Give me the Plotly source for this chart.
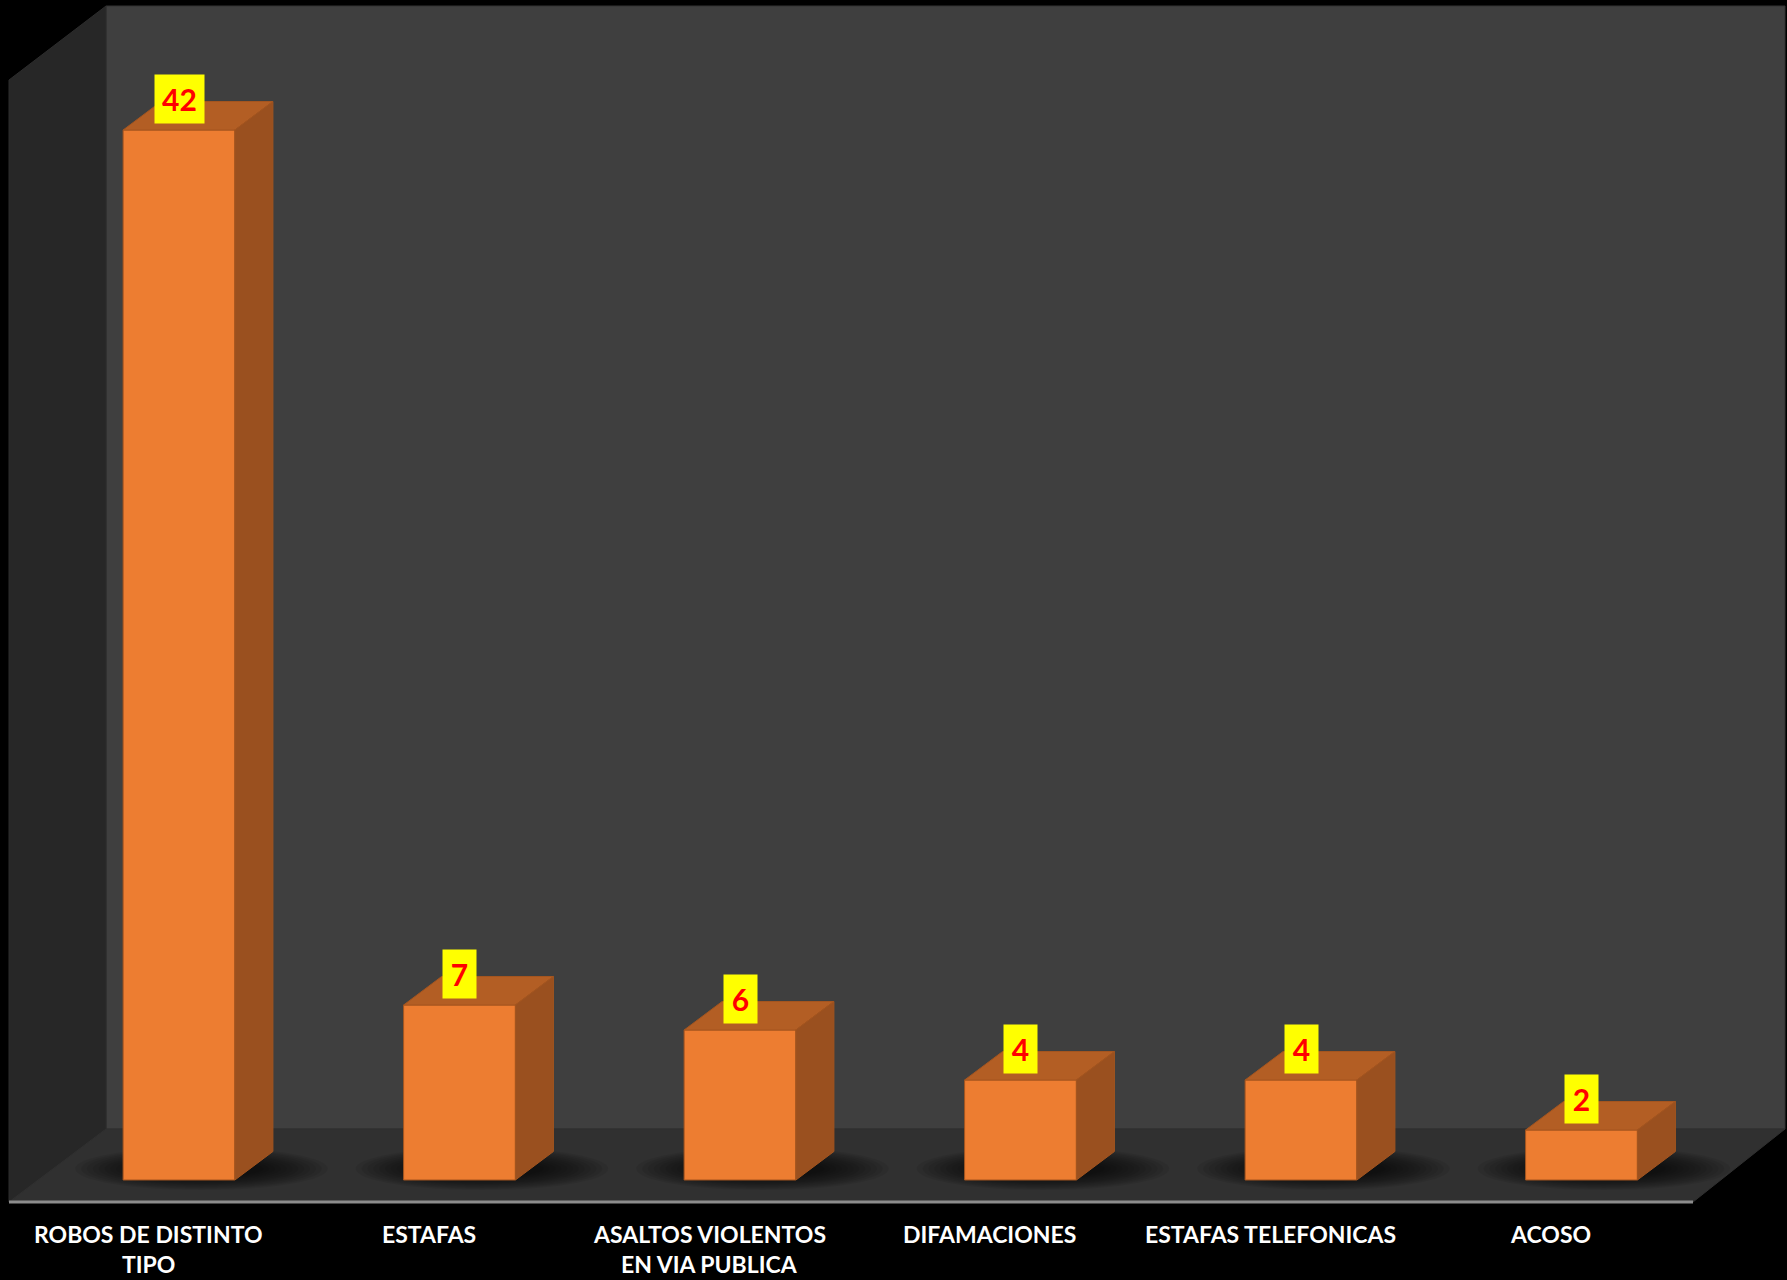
import plotly.graph_objects as go

# ---- data ----
categories = ["ROBOS DE DISTINTO<br>TIPO", "ESTAFAS", "ASALTOS VIOLENTOS<br>EN VIA PUBLICA",
              "DIFAMACIONES", "ESTAFAS TELEFONICAS", "ACOSO"]
values = [42, 7, 6, 4, 4, 2]

# ---- geometry / style ----
W, H = 1787, 1280
X0PX, XSTEP = 179.0, 280.5      # pixel of category 0 centre, pixels per category
Y0PX, YSTEP = 1180.0, 25.0      # pixel of value 0, pixels per unit
HW = 55.9 / XSTEP               # half bar width (x units)
DX = 38.0 / XSTEP               # depth offset (x units)
DY = 28.5 / YSTEP               # depth offset (y units)

FRONT, TOP, SIDE, EDGE = "#ED7D31", "#B35E24", "#9A501F", "#A4551F"

xr = [(0 - X0PX) / XSTEP, (W - X0PX) / XSTEP]
yr = [(Y0PX - H) / YSTEP, Y0PX / YSTEP]


def P(px, py):
    return px / W, 1 - py / H


def path(pts):
    s = ""
    for k, (px, py) in enumerate(pts):
        x, y = P(px, py)
        s += ("M" if k == 0 else "L") + f"{x:.5f},{y:.5f} "
    return s + "Z"


shapes = []
# back wall
shapes.append(dict(type="path", xref="paper", yref="paper", layer="below",
                   path=path([(106, 6), (1785, 6), (1785, 1129), (106, 1129)]),
                   fillcolor="#3F3F3F", line=dict(color="#333333", width=1)))
# left side wall
shapes.append(dict(type="path", xref="paper", yref="paper", layer="below",
                   path=path([(9, 80), (106, 6), (106, 1129), (9, 1202)]),
                   fillcolor="#272727", line=dict(color="#2c2c2c", width=1)))
# floor
shapes.append(dict(type="path", xref="paper", yref="paper", layer="below",
                   path=path([(9, 1202), (106, 1129), (1785, 1129), (1693, 1202)]),
                   fillcolor="#303030", line=dict(color="#303030", width=1)))
# soft shadows under bars (many faint layers)
NL = 12
for i, v in enumerate(values):
    cx = i + 0.08
    cy = 0.45
    for k in range(NL):
        f = 1 - k / NL
        sx = 0.20 + 0.25 * f
        sy = 0.30 + 0.55 * f
        shapes.append(dict(type="circle", xref="x", yref="y", layer="below",
                           x0=cx - sx, x1=cx + sx, y0=cy - sy, y1=cy + sy,
                           fillcolor="black", opacity=0.07, line=dict(width=0)))
# floor front edge line
shapes.append(dict(type="line", xref="paper", yref="paper", layer="below",
                   x0=P(9, 1202)[0], y0=P(9, 1202)[1], x1=P(1693, 1202)[0], y1=P(1693, 1202)[1],
                   line=dict(color="#8C8C8C", width=3)))

fig = go.Figure()
for i, v in enumerate(values):
    l, r = i - HW, i + HW
    # front face
    fig.add_trace(go.Scatter(x=[l, r, r, l, l], y=[0, 0, v, v, 0], mode="lines",
                             fill="toself", fillcolor=FRONT, line=dict(color=EDGE, width=1),
                             hoverinfo="skip", showlegend=False))
    # top face
    fig.add_trace(go.Scatter(x=[l, r, r + DX, l + DX, l], y=[v, v, v + DY, v + DY, v], mode="lines",
                             fill="toself", fillcolor=TOP, line=dict(color=EDGE, width=1),
                             hoverinfo="skip", showlegend=False))
    # side face
    fig.add_trace(go.Scatter(x=[r, r + DX, r + DX, r, r], y=[0, DY, v + DY, v, 0], mode="lines",
                             fill="toself", fillcolor=SIDE, line=dict(color=EDGE, width=1),
                             hoverinfo="skip", showlegend=False))

annotations = []
for i, v in enumerate(values):
    txt = str(v)
    annotations.append(dict(x=i, y=v, xref="x", yref="y", text=f"<b>{txt}</b>",
                            showarrow=False, yanchor="bottom", xanchor="center", yshift=6,
                            font=dict(family="Lato", size=30, color="#FF0000"),
                            bgcolor="#FFFF00", borderpad=0, width=17 + 16 * len(txt), height=48))
for i, c in enumerate(categories):
    for k, line in enumerate(c.split("<br>")):
        annotations.append(dict(x=i, y=0, xref="x", yref="y", text=f"<b>{line}</b>",
                                showarrow=False, xanchor="center", yanchor="middle",
                                xshift=-31, yshift=-(1234 - Y0PX) - 30 * k,
                                font=dict(family="Lato", size=23, color="#FFFFFF")))

fig.update_layout(
    width=W, height=H, margin=dict(l=0, r=0, t=0, b=0),
    paper_bgcolor="#000000", plot_bgcolor="#000000",
    xaxis=dict(range=xr, visible=False, fixedrange=True),
    yaxis=dict(range=yr, visible=False, fixedrange=True),
    shapes=shapes, annotations=annotations, showlegend=False,
)
fig.write_html("out.html", config={"displayModeBar": False},
               post_script="document.body.style.margin='0';document.body.style.overflow='hidden';")
